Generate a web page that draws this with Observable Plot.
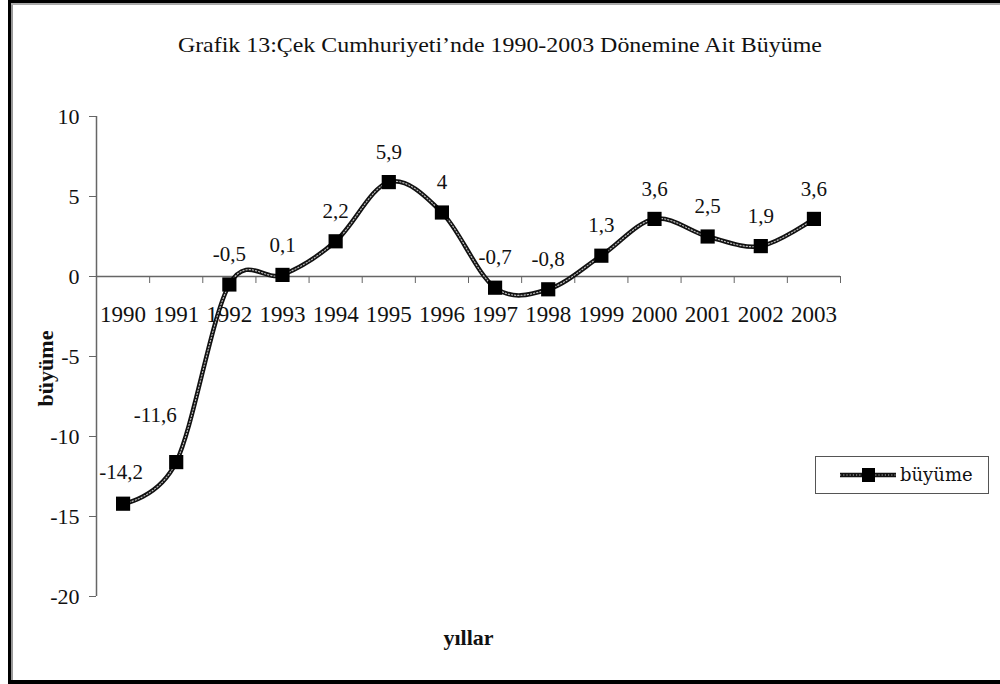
<!DOCTYPE html>
<html>
<head>
<meta charset="utf-8">
<script src="https://cdn.jsdelivr.net/npm/d3@7"></script>
<script src="https://cdn.jsdelivr.net/npm/@observablehq/plot@0.6"></script>
<style>
  html, body { margin: 0; padding: 0; background: #fff; }
  #wrap { position: relative; width: 1000px; height: 684px; overflow: hidden; font-family: "Liberation Serif", serif; }
  #wrap svg { position: absolute; left: 0; top: 0; }
  .b { position: absolute; }
  #title { position: absolute; left: 0; width: 1000px; top: 33px; text-align: center; font-size: 21px; color: #111; white-space: nowrap; }
  #title span { display: inline-block; transform-origin: center; }
  #legend { position: absolute; left: 815px; top: 456px; width: 174px; height: 38px; box-sizing: border-box; border: 1.5px solid #555; font-family: "DejaVu Serif", serif; font-size: 18px; }
  #legend svg { position: absolute; left: 24px; top: 9px; }
  #legend .lt { position: absolute; left: 84px; top: 7px; color: #111; }
</style>
</head>
<body>
<div id="wrap">
  <div class="b" style="left:8px;top:0;width:3px;height:684px;background:#000"></div>
  <div class="b" style="left:11px;top:0;width:2px;height:684px;background:#999"></div>
  <div class="b" style="left:8px;top:0;width:992px;height:3px;background:#000"></div>
  <div class="b" style="left:11px;top:3px;width:989px;height:2px;background:#aaa"></div>
  <div class="b" style="left:8px;top:680px;width:992px;height:4px;background:#000"></div>
  <div id="title"><span>Grafik 13:Çek Cumhuriyeti’nde 1990-2003 Dönemine Ait Büyüme</span></div>
  <div id="chart"></div>
  <div id="legend"><svg width="58" height="18"></svg><span class="lt">büyüme</span></div>
</div>
<script>
const years = [1990, 1991, 1992, 1993, 1994, 1995, 1996, 1997, 1998, 1999, 2000, 2001, 2002, 2003];
const growth = [-14.2, -11.6, -0.5, 0.1, 2.2, 5.9, 4, -0.7, -0.8, 1.3, 3.6, 2.5, 1.9, 3.6];
const yTicks = [-20, -15, -10, -5, 0, 5, 10];
const yDomain = [-20, 10];
const seriesName = "büyüme";
const yLabel = "büyüme";
const xLabel = "yıllar";

const data = years.map((year, i) => ({year, value: growth[i]}));
const fmt = v => String(v).replace(".", ",");
const xDomain = [years[0] - 0.5, years[years.length - 1] + 0.5];
const boundaries = d3.range(xDomain[0], xDomain[1] + 0.01, 1);

const W = 1000, H = 684, mL = 96, mR = 160, mT = 116, mB = 88;
const yS = Plot.scale({y: {domain: yDomain, range: [H - mB, mT]}});
const axisShift = yS.apply(0) - yS.apply(yDomain[0]);

const special = new Set([1990, 1991]);
const labelStyle = {fontSize: 21, fill: "#111", fontFamily: "Liberation Serif"};

const plot = Plot.plot({
  width: W, height: H,
  marginLeft: mL, marginRight: mR, marginTop: mT, marginBottom: mB,
  style: {fontFamily: "Liberation Serif", color: "#111", background: "transparent"},
  x: {type: "linear", domain: xDomain, axis: null},
  y: {domain: yDomain, axis: null},
  marks: [
    Plot.axisY({ticks: yTicks, tickFormat: d => String(d), tickSize: 7, tickPadding: 10, fontSize: 22, label: null, stroke: "#666"}),
    Plot.ruleX([xDomain[0]], {stroke: "#666", strokeWidth: 1.5}),
    Plot.ruleY([0], {stroke: "#666", strokeWidth: 1.5}),
    Plot.axisX({ticks: boundaries, tickFormat: () => "", tickSize: 7, anchor: "bottom", dy: axisShift, stroke: "#666", label: null}),
    Plot.text(years, {x: d => d, y: () => 0, text: d => String(d), dy: 38, ...labelStyle, fontSize: 23}),
    Plot.line(data, {x: "year", y: "value", curve: "cardinal", tension: 0, stroke: "#111", strokeWidth: 4.5}),
    Plot.line(data, {x: "year", y: "value", curve: "cardinal", tension: 0, stroke: "#bbb", strokeWidth: 1.2, strokeDasharray: "1.2,2"}),
    Plot.dot(data, {x: "year", y: "value", symbol: "square", r: 8, fill: "#000", stroke: "none"}),
    Plot.text(data.filter(d => !special.has(d.year)), {x: "year", y: "value", text: d => fmt(d.value), dy: -30, ...labelStyle}),
    Plot.text(data.filter(d => d.year === 1990), {x: "year", y: "value", text: d => fmt(d.value), dy: -31, dx: -2, ...labelStyle}),
    Plot.text(data.filter(d => d.year === 1991), {x: "year", y: "value", text: d => fmt(d.value), dy: -47, dx: -21, ...labelStyle}),
    Plot.text([yLabel], {frameAnchor: "left", textAnchor: "middle", rotate: -90, dx: -51, dy: 12, fontSize: 22, fontWeight: "bold", fill: "#111"}),
    Plot.text([xLabel], {frameAnchor: "bottom", dy: 48, fontSize: 22, fontWeight: "bold", fill: "#111"})
  ]
});
document.getElementById("chart").appendChild(plot);

// legend swatch
const sw = d3.select("#legend svg");
sw.append("line").attr("x1", 0).attr("x2", 56).attr("y1", 9).attr("y2", 9).attr("stroke", "#111").attr("stroke-width", 4.5);
sw.append("line").attr("x1", 0).attr("x2", 56).attr("y1", 9).attr("y2", 9).attr("stroke", "#bbb").attr("stroke-width", 1.2).attr("stroke-dasharray", "1.2,2");
sw.append("rect").attr("x", 22).attr("y", 2).attr("width", 13).attr("height", 14).attr("fill", "#000");
d3.select("#legend .lt").text(seriesName);

// fit title width to reference
const ts = document.querySelector("#title span");
const tw = ts.getBoundingClientRect().width;
ts.style.transform = `scaleX(${644 / tw})`;
</script>
</body>
</html>
